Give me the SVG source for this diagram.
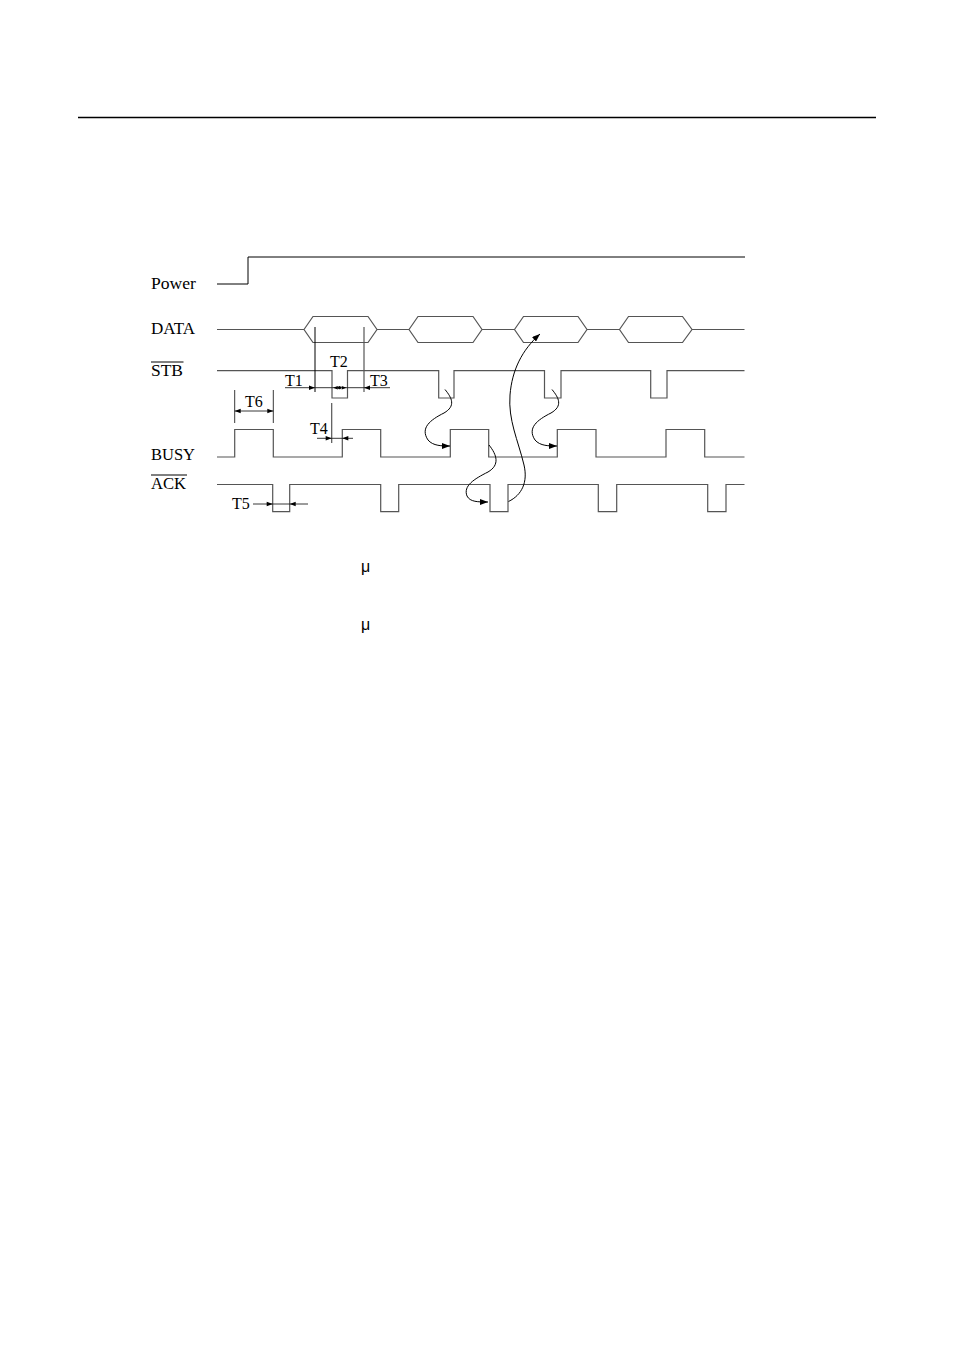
<svg xmlns="http://www.w3.org/2000/svg" width="954" height="1351" viewBox="0 0 954 1351">
<style>
.sig{fill:none;stroke:#555;stroke-width:1.2}
.blk{fill:none;stroke:#000;stroke-width:1}
.dim{fill:none;stroke:#222;stroke-width:0.9}
.lbl{font-family:"Liberation Serif","DejaVu Serif",serif;font-size:16.5px;fill:#000}
.tl{font-family:"Liberation Serif","DejaVu Serif",serif;font-size:16px;fill:#000}
.mu{font-family:"Liberation Sans","DejaVu Sans",sans-serif;font-size:16px;fill:#000}
.ah{fill:#000;stroke:none}
</style>
<defs>
<path id="ah" d="M0,0 L-6,-2.2 L-6,2.2 Z"/>
<marker id="arr" viewBox="0 0 8 6" refX="8" refY="3" markerWidth="8" markerHeight="6" markerUnits="userSpaceOnUse" orient="auto">
<path d="M0,0 L8,3 L0,6 Z" fill="#000"/>
</marker>
</defs>
<rect width="954" height="1351" fill="#fff"/>
<line x1="78" y1="117.5" x2="876" y2="117.5" stroke="#000" stroke-width="1.3"/>

<g id="power">
<text class="lbl" x="151" y="288.5" textLength="45" lengthAdjust="spacingAndGlyphs">Power</text>
<path class="blk" d="M217,284 H248 V257 H745"/>
</g>

<g id="data">
<text class="lbl" x="151" y="333.5" textLength="44" lengthAdjust="spacingAndGlyphs">DATA</text>
<path class="sig" d="M217,329.5 H304 M377,329.5 H409 M482,329.5 H514.5 M587,329.5 H619.5 M692,329.5 H744.5"/>
<polygon class="sig" points="304,329.5 313,316.5 368,316.5 377,329.5 368,342.5 313,342.5"/>
<polygon class="sig" points="409,329.5 418,316.5 473,316.5 482,329.5 473,342.5 418,342.5"/>
<polygon class="sig" points="514.5,329.5 523.5,316.5 578,316.5 587,329.5 578,342.5 523.5,342.5"/>
<polygon class="sig" points="619.5,329.5 628.5,316.5 682.5,316.5 692,329.5 682.5,342.5 628.5,342.5"/>
</g>

<g id="stb">
<text class="lbl" x="151" y="376" textLength="32" lengthAdjust="spacingAndGlyphs">STB</text>
<line x1="151" y1="362" x2="183.5" y2="362" stroke="#000" stroke-width="1"/>
<path class="sig" d="M217,370.7 H332 V398 H347.5 V370.7 H438.7 V398 H454 V370.7 H544.5 V398 H561 V370.7 H650.7 V398 H667 V370.7 H744.5"/>
</g>

<g id="busy">
<text class="lbl" x="151" y="460" textLength="44" lengthAdjust="spacingAndGlyphs">BUSY</text>
<path class="sig" d="M217,457 H234.7 V429.5 H273.3 V457 H342.3 V429.5 H380.7 V457 H450.3 V429.5 H488.7 V457 H557.3 V429.5 H596 V457 H666 V429.5 H704.7 V457 H744.5"/>
</g>

<g id="ack">
<text class="lbl" x="151" y="488.5" textLength="35" lengthAdjust="spacingAndGlyphs">ACK</text>
<line x1="151" y1="475" x2="187" y2="475" stroke="#000" stroke-width="1"/>
<path class="sig" d="M217,484.5 H272.7 V511.7 H289.7 V484.5 H380.7 V511.7 H398.7 V484.5 H490 V511.7 H508 V484.5 H598.3 V511.7 H616.7 V484.5 H707.7 V511.7 H726 V484.5 H744.5"/>
</g>

<g id="timing">
<line class="blk" x1="315" y1="327" x2="315" y2="392"/>
<line class="sig" x1="364" y1="327" x2="364" y2="392"/>
<line class="dim" x1="285" y1="387.7" x2="390" y2="387.7"/>
<use href="#ah" class="ah" transform="translate(315,387.7)"/>
<use href="#ah" class="ah" transform="translate(364,387.7) rotate(180)"/>
<use href="#ah" class="ah" transform="translate(333,387.7) rotate(180) scale(0.8)"/>
<use href="#ah" class="ah" transform="translate(346.5,387.7) scale(0.8)"/>
<circle cx="339.5" cy="387.7" r="1.6" fill="#000"/>
<text class="tl" x="285" y="386">T1</text>
<text class="tl" x="330" y="367">T2</text>
<text class="tl" x="370" y="386">T3</text>

<line class="sig" x1="331.7" y1="403" x2="331.7" y2="443"/>
<line class="dim" x1="317" y1="438.3" x2="353" y2="438.3"/>
<use href="#ah" class="ah" transform="translate(331.7,438.3)"/>
<use href="#ah" class="ah" transform="translate(342.3,438.3) rotate(180)"/>
<text class="tl" x="310" y="434">T4</text>

<line class="dim" x1="234.7" y1="390" x2="234.7" y2="423"/>
<line class="dim" x1="273.3" y1="390" x2="273.3" y2="423"/>
<line class="dim" x1="234.7" y1="411" x2="273.3" y2="411"/>
<use href="#ah" class="ah" transform="translate(234.7,411) rotate(180)"/>
<use href="#ah" class="ah" transform="translate(273.3,411)"/>
<text class="tl" x="245" y="406.5">T6</text>

<line class="dim" x1="253" y1="504" x2="308" y2="504"/>
<use href="#ah" class="ah" transform="translate(272.7,504)"/>
<use href="#ah" class="ah" transform="translate(289.7,504) rotate(180)"/>
<text class="tl" x="232" y="509">T5</text>
</g>

<g id="connectors" fill="none" stroke="#000" stroke-width="1">
<path d="M445,389.5 C452,398 456,406 444,413 C430,420 420,428 428,440 C433,446 442,446 450,446" marker-end="url(#arr)"/>
<path d="M552,389.5 C559,398 563,406 551,413 C537,420 527,428 535,440 C540,446 549,446 557,446" marker-end="url(#arr)"/>
<path d="M489,445 C497,455 500,465 488,472 C474,479 463,486 467,496 C470,502 478,502 488,502" marker-end="url(#arr)"/>
<path d="M508.5,501.5 C522,495 528,482 524,465 C518,440 508,420 510,395 C512,370 522,350 540,334" marker-end="url(#arr)"/>
</g>

<text class="mu" x="361" y="572">μ</text>
<text class="mu" x="361" y="630">μ</text>
</svg>
